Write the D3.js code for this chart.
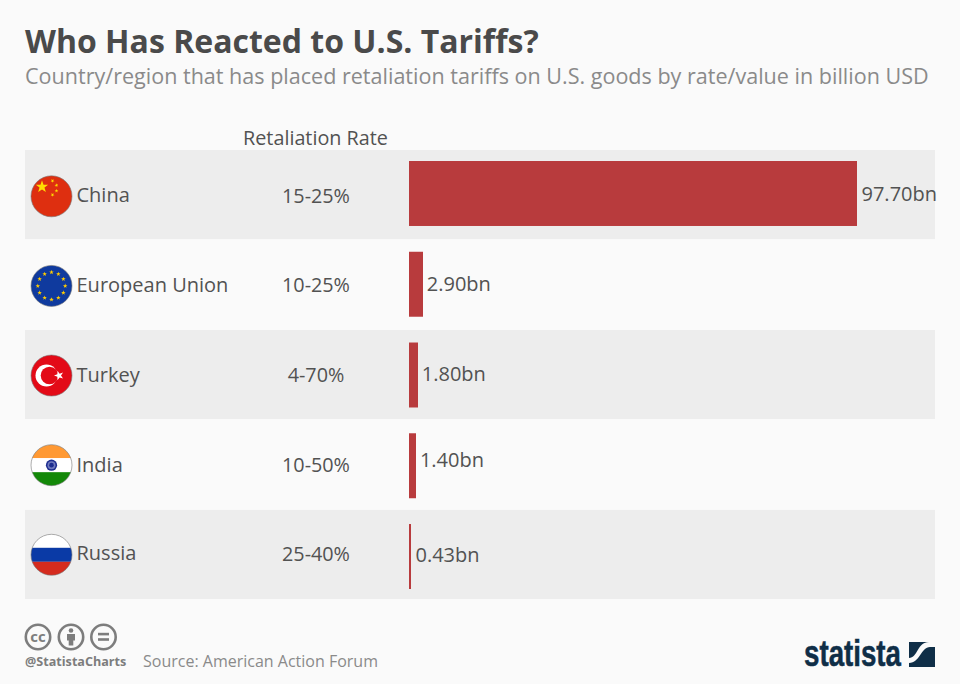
<!DOCTYPE html>
<html>
<head>
<meta charset="utf-8">
<script src="https://cdn.jsdelivr.net/npm/d3@7"></script>
<style>
  html, body { margin: 0; padding: 0; background: #fafafa; }
  svg { display: block; }
  text { font-family: "Open Sans", sans-serif; }
</style>
</head>
<body>
<div id="chart"></div>
<script>
// values
var countries = ['China', 'European Union', 'Turkey', 'India', 'Russia'];
var rates = ['15-25%', '10-25%', '4-70%', '10-50%', '25-40%'];
var values = [97.70, 2.90, 1.80, 1.40, 0.43];

var width = 960, height = 684;
var barColor = '#b83b3d';
var textColor = '#525252';

var svg = d3.select('#chart').append('svg')
  .attr('width', width)
  .attr('height', height);

svg.append('rect').attr('width', width).attr('height', height).attr('fill', '#fafafa');

// title
svg.append('text').attr('x', 25).attr('y', 52.5)
  .attr('font-size', 32).attr('font-weight', 700).attr('fill', '#4a4a4a')
  .text('Who Has Reacted to U.S. Tariffs?');
svg.append('text').attr('x', 25).attr('y', 84)
  .attr('font-size', 21.55).attr('fill', '#8a8a8a')
  .text('Country/region that has placed retaliation tariffs on U.S. goods by rate/value in billion USD');
svg.append('text').attr('x', 315.5).attr('y', 145)
  .attr('text-anchor', 'middle').attr('font-size', 19.8).attr('fill', textColor)
  .text('Retaliation Rate');

// scales
var rowY = d3.scaleBand().domain(countries).range([150, 599]).paddingInner(0.01);
var barY = d3.scaleBand().domain(countries).range([161, 589]).paddingInner(0.284);
var x = d3.scaleLinear().domain([0, 97.7]).range([409, 857]);

// small per row offsets so the labels sit like in the original
var labelY = d3.scalePoint().domain(countries).range([196, 555.5]);
var flagY = d3.scalePoint().domain(countries).range([196.3, 554.8]);
var nameNudge = [0, 0, 0, 0, -1.5];
var valueNudge = [-1, -1, -1, -5, 0];

svg.selectAll('.row').data(countries).enter().filter(function(d, i) { return i % 2 == 0; })
  .append('rect').attr('class', 'row')
  .attr('x', 25).attr('width', 910)
  .attr('y', function(d) { return rowY(d); })
  .attr('height', rowY.bandwidth())
  .attr('fill', '#ededed');

svg.selectAll('.bar').data(countries).enter().append('rect').attr('class', 'bar')
  .attr('x', x(0))
  .attr('y', function(d) { return barY(d); })
  .attr('height', barY.bandwidth())
  .attr('width', function(d, i) { return Math.ceil(x(values[i]) - x(0)); })
  .attr('fill', barColor);

svg.selectAll('.name').data(countries).enter().append('text').attr('class', 'name')
  .attr('x', 76.5)
  .attr('y', function(d, i) { return labelY(d) + 6 + nameNudge[i]; })
  .attr('font-size', 20).attr('fill', textColor)
  .text(function(d) { return d; });

svg.selectAll('.rate').data(rates).enter().append('text').attr('class', 'rate')
  .attr('x', 316)
  .attr('y', function(d, i) { return labelY(countries[i]) + 6.5 - (i == 4 ? 1 : 0); })
  .attr('text-anchor', 'middle').attr('font-size', 19.8).attr('fill', textColor)
  .text(function(d) { return d; });

svg.selectAll('.value').data(values).enter().append('text').attr('class', 'value')
  .attr('x', function(d) { return x(d) + 4.5; })
  .attr('y', function(d, i) { return labelY(countries[i]) + 6 + valueNudge[i]; })
  .attr('font-size', 20).attr('fill', textColor)
  .text(function(d) { return d.toFixed(2) + 'bn'; });

// flags
function star(g, cx, cy, r, fill, rot) {
  var pts = [];
  for (var k = 0; k < 10; k++) {
    var a = -Math.PI / 2 + k * Math.PI / 5 + (rot || 0);
    var rr = k % 2 ? r * 0.4 : r;
    pts.push([cx + rr * Math.cos(a), cy + rr * Math.sin(a)].join(','));
  }
  g.append('polygon').attr('points', pts.join(' ')).attr('fill', fill);
}

var flagR = 20.5;
var flags = {
  'China': function(g) {
    g.append('rect').attr('x', -21).attr('y', -21).attr('width', 42).attr('height', 42).attr('fill', '#de2f10');
    star(g, -9.5, -9.5, 6.5, '#ffde00');
    star(g, 1, -15.5, 2, '#ffde00', 0.5);
    star(g, 5, -11, 2, '#ffde00', 1);
    star(g, 5, -5.5, 2, '#ffde00', 0);
    star(g, 1, -1.5, 2, '#ffde00', 0.5);
  },
  'European Union': function(g) {
    g.append('rect').attr('x', -21).attr('y', -21).attr('width', 42).attr('height', 42).attr('fill', '#0f3a9e');
    d3.range(12).forEach(function(k) {
      var a = k * Math.PI / 6;
      star(g, 13.7 * Math.sin(a), -13.7 * Math.cos(a), 2.4, '#ffcc00');
    });
  },
  'Turkey': function(g) {
    g.append('rect').attr('x', -21).attr('y', -21).attr('width', 42).attr('height', 42).attr('fill', '#e30a17');
    g.append('circle').attr('cx', -5).attr('r', 11).attr('fill', '#fff');
    g.append('circle').attr('cx', -2).attr('r', 8.8).attr('fill', '#e30a17');
    star(g, 7.5, 0, 5, '#fff', -1.57);
  },
  'India': function(g) {
    g.append('rect').attr('x', -21).attr('y', -21).attr('width', 42).attr('height', 14).attr('fill', '#ff9933');
    g.append('rect').attr('x', -21).attr('y', -7).attr('width', 42).attr('height', 14).attr('fill', '#fff');
    g.append('rect').attr('x', -21).attr('y', 7).attr('width', 42).attr('height', 14).attr('fill', '#138808');
    g.append('circle').attr('r', 5.6).attr('fill', '#1d2d8f');
    g.append('circle').attr('r', 4).attr('fill', '#6f79bd');
    g.append('circle').attr('r', 2.3).attr('fill', '#1d2d8f');
  },
  'Russia': function(g) {
    g.append('rect').attr('x', -21).attr('y', -21).attr('width', 42).attr('height', 14).attr('fill', '#fff');
    g.append('rect').attr('x', -21).attr('y', -7).attr('width', 42).attr('height', 14).attr('fill', '#0a3aa6');
    g.append('rect').attr('x', -21).attr('y', 7).attr('width', 42).attr('height', 14).attr('fill', '#d52b1e');
  }
};

svg.append('clipPath').attr('id', 'flagClip').append('circle').attr('r', flagR);

countries.forEach(function(c) {
  var wrap = svg.append('g').attr('transform', 'translate(51.5,' + flagY(c) + ')');
  var g = wrap.append('g').attr('clip-path', 'url(#flagClip)');
  flags[c](g);
  wrap.append('circle').attr('r', flagR).attr('fill', 'none').attr('stroke', '#777').attr('stroke-width', 0.6);
});

// footer, cc icons
var icons = svg.append('g').attr('fill', 'none').attr('stroke', '#7d7d7d').attr('stroke-width', 2.6);
[38, 71, 103.5].forEach(function(cx) {
  icons.append('circle').attr('cx', cx).attr('cy', 637).attr('r', 12.2);
});
svg.append('text').attr('x', 38).attr('y', 642).attr('text-anchor', 'middle')
  .attr('font-size', 15).attr('font-weight', 700).attr('fill', '#7d7d7d').text('cc');
svg.append('circle').attr('cx', 71).attr('cy', 630.5).attr('r', 2.3).attr('fill', '#7d7d7d');
svg.append('rect').attr('x', 67).attr('y', 634).attr('width', 8).attr('height', 6.5).attr('fill', '#7d7d7d');
svg.append('rect').attr('x', 68.7).attr('y', 640).attr('width', 4.6).attr('height', 5.5).attr('fill', '#7d7d7d');
svg.append('rect').attr('x', 98).attr('y', 632.8).attr('width', 11).attr('height', 2.6).attr('fill', '#7d7d7d');
svg.append('rect').attr('x', 98).attr('y', 638.2).attr('width', 11).attr('height', 2.6).attr('fill', '#7d7d7d');

svg.append('text').attr('x', 25).attr('y', 666)
  .attr('font-size', 12.6).attr('font-weight', 700).attr('fill', '#7d7d7d').text('@StatistaCharts');
svg.append('text').attr('x', 143).attr('y', 666.5)
  .attr('font-size', 16).attr('fill', '#8a8a8a').text('Source: American Action Forum');

// logo
svg.append('text').attr('x', 804).attr('y', 666)
  .attr('textLength', 97).attr('lengthAdjust', 'spacingAndGlyphs')
  .style('font-family', '"Liberation Sans Narrow", "Liberation Sans", sans-serif')
  .attr('font-size', 36).attr('font-weight', 700).attr('fill', '#0f2e47')
  .attr('stroke', '#0f2e47').attr('stroke-width', 0.5).text('statista');
svg.append('rect').attr('x', 909).attr('y', 642).attr('width', 26).attr('height', 25).attr('fill', '#0f2e47');
svg.append('path').attr('d', 'M909,663 C920,663 921,647 930,647 L935,647 L935,642 L929,642 C917,642 918,658 909,658 Z')
  .attr('fill', '#fafafa');
</script>
</body>
</html>
